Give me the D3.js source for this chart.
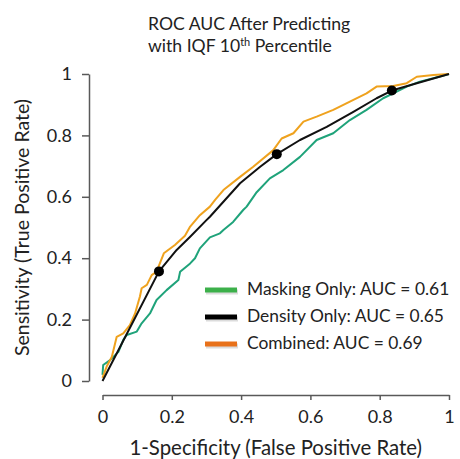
<!DOCTYPE html>
<html>
<head>
<meta charset="utf-8">
<script src="https://cdn.jsdelivr.net/npm/d3@7"></script>
<style>
  body { margin: 0; background: #fff; }
  text { font-family: Lato, "Open Sans", sans-serif; fill: #222; }
</style>
</head>
<body>
<svg id="roc"></svg>
<script>
// ROC curves, values

var tickValues = [0, 0.2, 0.4, 0.6, 0.8, 1];
var tickLabels = ["0", "0.2", "0.4", "0.6", "0.8", "1"];

var seriesNames = ["Masking Only: AUC = 0.61", "Density Only: AUC = 0.65", "Combined: AUC = 0.69"];

// masking only (green)
var maskingFpr = [0, 0.002, 0.022, 0.046, 0.06, 0.07, 0.099, 0.113, 0.137, 0.156, 0.185, 0.219, 0.224, 0.253, 0.267, 0.281, 0.31, 0.339, 0.349, 0.377, 0.406, 0.416, 0.445, 0.483, 0.522, 0.57, 0.618, 0.666, 0.714, 0.762, 0.81, 0.839, 0.878, 0.916, 0.955, 1];
var maskingTpr = [0.02, 0.052, 0.068, 0.095, 0.134, 0.15, 0.161, 0.188, 0.22, 0.264, 0.296, 0.329, 0.356, 0.383, 0.40, 0.432, 0.468, 0.481, 0.492, 0.518, 0.557, 0.568, 0.615, 0.66, 0.687, 0.73, 0.785, 0.807, 0.85, 0.883, 0.921, 0.937, 0.959, 0.975, 0.986, 1];

// density only (black)
var densityFpr = [0, 0.08, 0.163, 0.214, 0.253, 0.3, 0.31, 0.397, 0.455, 0.503, 0.57, 0.647, 0.724, 0.791, 0.835, 0.907, 1];
var densityTpr = [0, 0.175, 0.357, 0.427, 0.47, 0.524, 0.535, 0.644, 0.698, 0.739, 0.785, 0.828, 0.877, 0.921, 0.946, 0.97, 1];

// the three marked thresholds on the density curve
var cutFpr = [0.163, 0.503, 0.835];
var cutTpr = [0.357, 0.739, 0.946];

// combined (orange)
var combinedFpr = [0, 0.012, 0.027, 0.041, 0.06, 0.079, 0.094, 0.108, 0.113, 0.128, 0.142, 0.156, 0.177, 0.209, 0.238, 0.253, 0.281, 0.31, 0.325, 0.349, 0.397, 0.435, 0.493, 0.517, 0.551, 0.58, 0.618, 0.666, 0.714, 0.762, 0.791, 0.839, 0.878, 0.907, 0.955, 1];
var combinedTpr = [0.01, 0.047, 0.079, 0.144, 0.155, 0.182, 0.22, 0.275, 0.302, 0.313, 0.345, 0.356, 0.416, 0.443, 0.473, 0.503, 0.54, 0.568, 0.59, 0.622, 0.665, 0.698, 0.752, 0.79, 0.807, 0.845, 0.861, 0.883, 0.91, 0.937, 0.959, 0.961, 0.97, 0.991, 0.997, 1];

var width = 460,
    height = 459;

var svg = d3.select("#roc")
  .attr("width", width)
  .attr("height", height);

var x = d3.scaleLinear().domain([0, 1]).range([102.5, 449]);
var y = d3.scaleLinear().domain([0, 1]).range([381, 74]);

var axisColor = "#595959";

// y axis (left, line only between first and last tick)
var yAxis = svg.append("g")
  .attr("transform", "translate(89,0)")
  .call(d3.axisLeft(y).tickValues(tickValues)
    .tickFormat(function(d, i) { return tickLabels[i]; })
    .tickSize(7).tickSizeOuter(0).tickPadding(10));

// x axis, offset below the plot
var xAxis = svg.append("g")
  .attr("transform", "translate(0,395)")
  .call(d3.axisBottom(x).tickValues(tickValues)
    .tickFormat(function(d, i) { return tickLabels[i]; })
    .tickSize(5).tickSizeOuter(0).tickPadding(10));

[yAxis, xAxis].forEach(function(g) {
  g.select(".domain").attr("stroke", axisColor).attr("stroke-width", 1.5);
  g.selectAll(".tick line").attr("stroke", axisColor).attr("stroke-width", 1.5);
  g.selectAll(".tick text")
    .attr("fill", "#222")
    .style("font-family", "Lato, 'Open Sans', sans-serif")
    .style("font-size", "18px");
});

var line = d3.line()
  .x(function(d) { return x(d[0]); })
  .y(function(d) { return y(d[1]); });

function pairs(xs, ys) {
  return xs.map(function(v, i) { return [v, ys[i]]; });
}

var curves = [
  { pts: pairs(maskingFpr, maskingTpr), color: "#1fa37a" },
  { pts: pairs(combinedFpr, combinedTpr), color: "#efa21e" },
  { pts: pairs(densityFpr, densityTpr), color: "#111" }
];

svg.append("g")
  .selectAll("path")
  .data(curves)
  .join("path")
  .attr("d", function(d) { return line(d.pts); })
  .attr("fill", "none")
  .attr("stroke", function(d) { return d.color; })
  .attr("stroke-width", 2)
  .attr("stroke-linejoin", "round");

svg.append("g")
  .selectAll("circle")
  .data(pairs(cutFpr, cutTpr))
  .join("circle")
  .attr("cx", function(d) { return x(d[0]); })
  .attr("cy", function(d) { return y(d[1]); })
  .attr("r", 5)
  .attr("fill", "#000");

// legend
var swatchColors = ["#3cb04a", "#000", "#e8711a"];
var legend = svg.append("g")
  .selectAll("g")
  .data(seriesNames)
  .join("g")
  .attr("transform", function(d, i) { return "translate(205," + (289 + i * 27) + ")"; });

legend.append("line")
  .attr("x1", 1).attr("x2", 33).attr("y1", 3).attr("y2", 3)
  .attr("stroke", "#bbb").attr("stroke-width", 5).attr("opacity", 0.5);
legend.append("line")
  .attr("x1", 0).attr("x2", 32).attr("y1", 1).attr("y2", 1)
  .attr("stroke", function(d, i) { return swatchColors[i]; })
  .attr("stroke-width", 5);
legend.append("text")
  .attr("x", 42)
  .attr("y", 6)
  .style("font-size", "17.4px")
  .text(function(d) { return d; });

// title
var title = svg.append("text")
  .attr("x", 148)
  .attr("y", 30)
  .style("font-size", "17.6px");
title.append("tspan").text("ROC AUC After Predicting");
var t2 = svg.append("text")
  .attr("x", 148)
  .attr("y", 52)
  .style("font-size", "17.6px");
t2.append("tspan").text("with IQF 10");
t2.append("tspan").attr("dy", -6).style("font-size", "11px").text("th");
t2.append("tspan").attr("dy", 6).text(" Percentile");

// axis titles
svg.append("text")
  .attr("x", x(0.5))
  .attr("y", 455)
  .attr("text-anchor", "middle")
  .style("font-size", "20.4px")
  .text("1-Specificity (False Positive Rate)");

svg.append("text")
  .attr("transform", "translate(29," + y(0.5) + ") rotate(-90)")
  .attr("text-anchor", "middle")
  .style("font-size", "19.5px")
  .text("Sensitivity (True Positive Rate)");
</script>
</body>
</html>
